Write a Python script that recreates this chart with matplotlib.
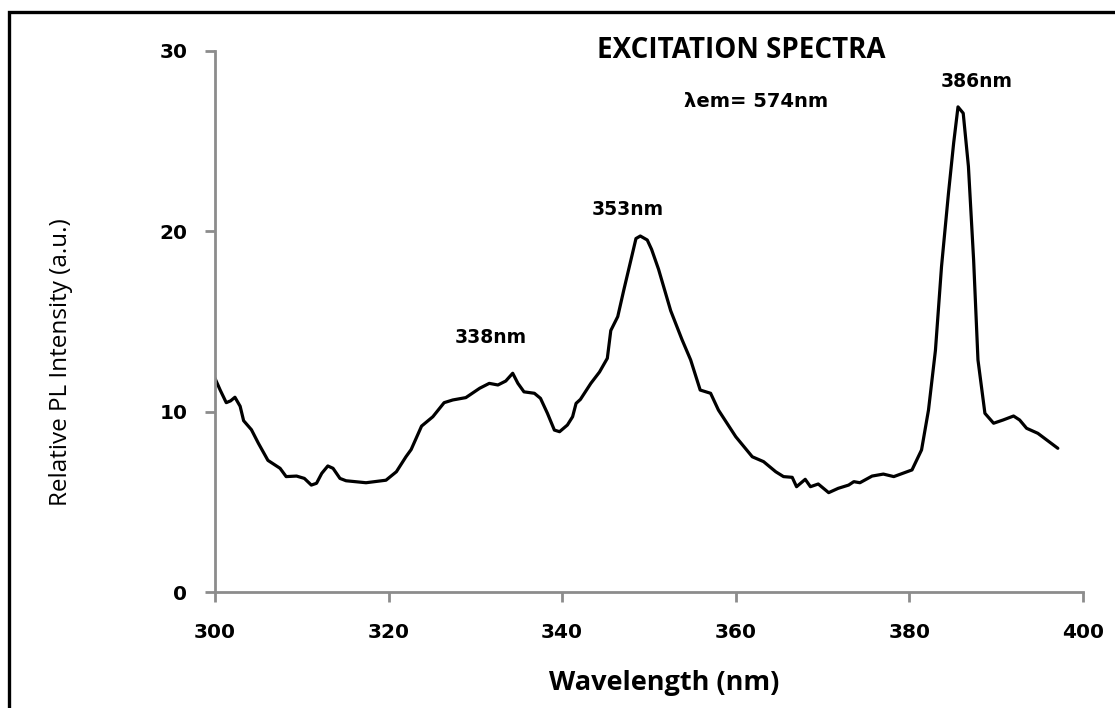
import matplotlib
matplotlib.use("Agg")
import matplotlib.pyplot as plt
from matplotlib.patches import Rectangle

# excitation spectrum
wavelength = [300.0, 300.6, 301.3, 301.8, 302.3, 302.9, 303.3, 304.2, 305.0, 306.1,
              307.5, 308.2, 309.4, 310.3, 311.1, 311.7, 312.3, 313.0, 313.6, 314.4,
              315.1, 317.4, 319.7, 320.9, 322.0, 322.6, 323.8, 325.1, 326.4, 327.4,
              328.9, 330.5, 331.6, 332.6, 333.5, 334.3, 334.9, 335.6, 336.8, 337.5,
              338.3, 339.1, 339.7, 340.6, 341.2, 341.6, 342.1, 343.3, 344.3, 345.2,
              345.6, 346.4, 347.1, 348.1, 348.5, 349.0, 349.8, 350.3, 351.1, 352.5,
              353.8, 354.8, 355.9, 357.1, 358.0, 360.0, 361.9, 363.2, 364.6, 365.5,
              366.5, 367.0, 368.0, 368.6, 369.5, 370.7, 371.8, 373.0, 373.6, 374.3,
              375.7, 377.0, 378.2, 380.3, 381.4, 382.2, 383.0, 383.7, 384.5, 385.1,
              385.6, 386.2, 386.8, 387.4, 387.9, 388.7, 389.7, 390.8, 392.0, 392.7,
              393.5, 394.8, 397.1]
intensity = [11.85, 11.2, 10.5, 10.6, 10.8, 10.3, 9.5, 9.0, 8.25, 7.3,
             6.86, 6.4, 6.43, 6.3, 5.93, 6.03, 6.58, 6.99, 6.86, 6.3,
             6.17, 6.06, 6.2, 6.67, 7.5, 7.9, 9.2, 9.72, 10.5, 10.65,
             10.78, 11.3, 11.57, 11.48, 11.7, 12.13, 11.57, 11.1, 11.02, 10.74,
             9.91, 8.98, 8.89, 9.26, 9.72, 10.46, 10.68, 11.57, 12.2, 12.96,
             14.5, 15.27, 16.75, 18.78, 19.6, 19.74, 19.52, 19.0, 17.9, 15.6,
             14.0, 12.87, 11.2, 11.02, 10.09, 8.61, 7.5, 7.23, 6.67, 6.4,
             6.36, 5.84, 6.25, 5.84, 5.99, 5.51, 5.75, 5.93, 6.12, 6.06,
             6.43, 6.54, 6.4, 6.77, 7.88, 10.09, 13.4, 18.04, 22.1, 24.9,
             26.9, 26.55, 23.6, 18.4, 12.87, 9.91, 9.36, 9.54, 9.76, 9.54,
             9.08, 8.8, 7.97]

peak_labels = ["338nm", "353nm", "386nm"]
peak_pos = [(331.8, 14.1), (347.6, 21.2), (387.7, 28.3)]

fig = plt.figure(figsize=(11.15, 7.08), dpi=100)
ax = fig.add_axes([0.1928, 0.1638, 0.7785, 0.7642])

ax.plot(wavelength, intensity, color="black", linewidth=2.3,
        solid_joinstyle="round", solid_capstyle="round")

ax.set_xlim(300, 400)
ax.set_ylim(0, 30)
ax.set_xticks([300, 320, 340, 360, 380, 400])
ax.set_yticks([0, 10, 20, 30])

for s in ["top", "right"]:
    ax.spines[s].set_visible(False)
for s in ["left", "bottom"]:
    ax.spines[s].set_color("#8c8c8c")
    ax.spines[s].set_linewidth(2)

ax.tick_params(axis="both", direction="out", color="#8c8c8c", width=2, length=7)
ax.tick_params(axis="x", pad=15)
ax.tick_params(axis="y", pad=13)
for lab in ax.get_xticklabels() + ax.get_yticklabels():
    lab.set_fontfamily("DejaVu Sans")
    lab.set_fontweight("bold")
    lab.set_fontsize(14.5)

ax.set_xlabel("Wavelength (nm)", fontfamily="Open Sans", fontweight="bold",
              fontsize=19.5)
ax.xaxis.set_label_coords(0.518, -0.145)
ax.set_ylabel("Relative PL Intensity (a.u.)", fontfamily="Open Sans",
              fontsize=17.5)
ax.yaxis.set_label_coords(-0.164, 0.425)

ax.text(360.6, 30.0, "EXCITATION SPECTRA", fontfamily="Open Sans", fontweight="bold",
        fontsize=20, ha="center", va="center")
ax.text(362.3, 27.2, "λem= 574nm", fontfamily="DejaVu Sans", fontweight="bold",
        fontsize=14, ha="center", va="center")
for txt, (px, py) in zip(peak_labels, peak_pos):
    ax.text(px, py, txt, fontfamily="DejaVu Sans", fontweight="bold",
            fontsize=13.5, ha="center", va="center")

# outer frame of the original picture (right and bottom cut off)
fig.patches.append(Rectangle((0.0085, -0.2), 1.5, 1.2 - 0.0165, transform=fig.transFigure,
                             fill=False, edgecolor="black", linewidth=2.4))

fig.savefig("out.png", dpi=100)
